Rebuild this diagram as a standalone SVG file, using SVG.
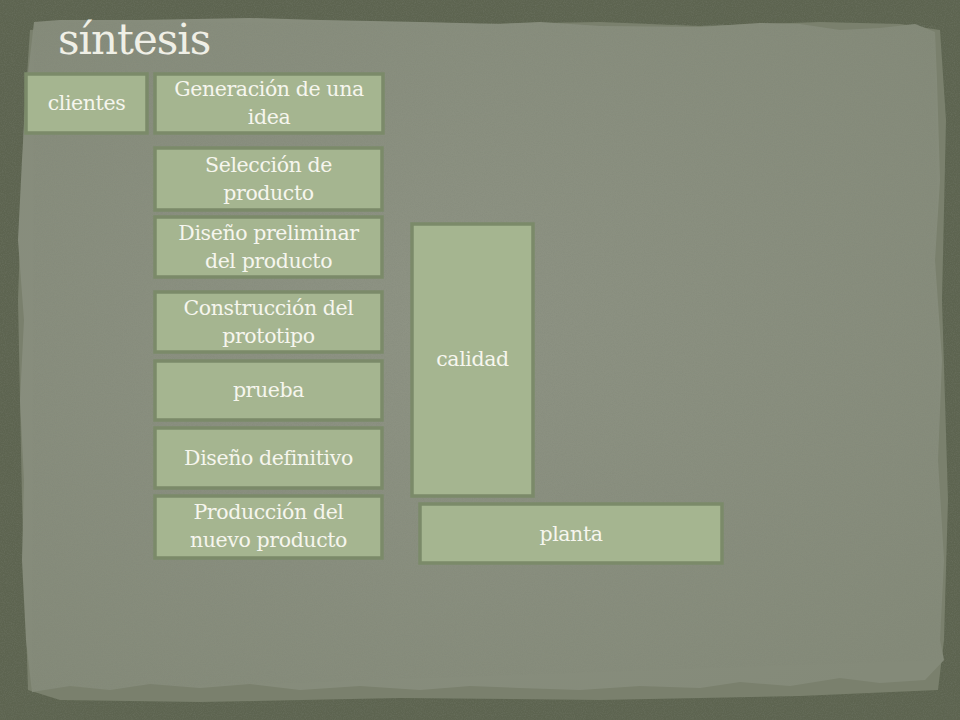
<svg xmlns="http://www.w3.org/2000/svg" width="960" height="720" viewBox="0 0 960 720">
<defs>
<style>
.box{fill:#a5b590;stroke:#7b8a69;stroke-width:3.5}
.t{font-family:"DejaVu Serif","Liberation Serif",serif;font-size:20.5px;fill:#f6f6ee;text-anchor:middle;letter-spacing:-0.4px}
.title{font-family:"DejaVu Serif","Liberation Serif",serif;font-size:42px;fill:#efefe6;letter-spacing:-1px}
</style>
<filter id="noise" x="0" y="0" width="100%" height="100%">
<feTurbulence type="fractalNoise" baseFrequency="0.9" numOctaves="2" seed="3" result="n"/>
<feColorMatrix type="matrix" values="0 0 0 0 0.2  0 0 0 0 0.22  0 0 0 0 0.17  0 0 0 -1.2 0.75" in="n" result="m"/>
<feComposite in="m" in2="SourceGraphic" operator="in"/>
</filter>
<radialGradient id="paperg" cx="0.45" cy="0.45" r="0.7">
<stop offset="0" stop-color="#8e9384"/>
<stop offset="1" stop-color="#848a79"/>
</radialGradient>
</defs>
<g id="background">
<rect x="0" y="0" width="960" height="720" fill="#5d6450"/>
<rect x="0" y="0" width="960" height="720" fill="#5d6450" filter="url(#noise)" opacity="0.5"/>
<path fill="#7a806d" d="M30,30 L120,22 L300,20 L480,24 L600,22 L700,26 L820,22 L900,24 L940,30 L946,120 L942,300 L948,500 L944,640 L938,690 L800,696 L600,700 L400,698 L200,702 L60,700 L28,690 L22,500 L18,300 L24,120 Z"/>
<path fill="url(#paperg)" d="M34,22 L60,20 L140,20 L250,18 L320,20 L420,22 L500,24 L540,22 L600,26 L700,27 L760,23 L800,24 L840,30 L880,28 L915,24 L935,32 L937,80 L940,180 L935,260 L942,360 L938,460 L944,560 L940,640 L944,660 L925,680 L880,683 L840,678 L790,686 L740,682 L700,688 L640,686 L580,690 L520,688 L470,686 L420,690 L360,686 L300,690 L250,684 L200,688 L150,684 L110,690 L70,686 L32,692 L26,640 L22,560 L24,480 L20,400 L24,320 L18,240 L22,160 L26,90 L32,40 Z"/>
<path fill="url(#paperg)" filter="url(#noise)" opacity="0.35" d="M34,22 L935,24 L942,660 L32,692 Z"/>
</g>
<text class="title" x="58" y="54">síntesis</text>
<g id="clientes"><rect class="box" x="26" y="74" width="121" height="59"/><text class="t" x="86.5" y="110">clientes</text></g>
<g id="generacion"><rect class="box" x="155" y="74" width="228" height="59"/><text class="t" x="269" y="96">Generación de una</text><text class="t" x="269" y="124">idea</text></g>
<g id="seleccion"><rect class="box" x="155" y="148" width="227" height="62"/><text class="t" x="268.5" y="172">Selección de</text><text class="t" x="268.5" y="200">producto</text></g>
<g id="preliminar"><rect class="box" x="155" y="217" width="227" height="60"/><text class="t" x="268.5" y="240">Diseño preliminar</text><text class="t" x="268.5" y="268">del producto</text></g>
<g id="construccion"><rect class="box" x="155" y="292" width="227" height="60"/><text class="t" x="268.5" y="315">Construcción del</text><text class="t" x="268.5" y="343">prototipo</text></g>
<g id="prueba"><rect class="box" x="155" y="361" width="227" height="59"/><text class="t" x="268.5" y="397">prueba</text></g>
<g id="definitivo"><rect class="box" x="155" y="428" width="227" height="60"/><text class="t" x="268.5" y="465">Diseño definitivo</text></g>
<g id="produccion"><rect class="box" x="155" y="496" width="227" height="62"/><text class="t" x="268.5" y="519">Producción del</text><text class="t" x="268.5" y="547">nuevo producto</text></g>
<g id="calidad"><rect class="box" x="412" y="224" width="121" height="272"/><text class="t" x="472.5" y="366">calidad</text></g>
<g id="planta"><rect class="box" x="420" y="504" width="302" height="59"/><text class="t" x="571" y="541">planta</text></g>
<g id="connectors"/>
</svg>
